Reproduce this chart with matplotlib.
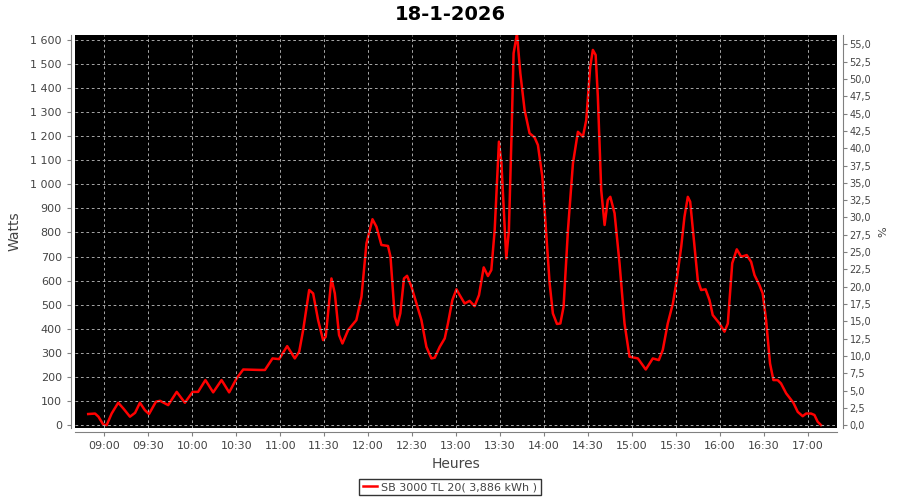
import matplotlib
matplotlib.use("Agg")
import matplotlib.pyplot as plt
from matplotlib.ticker import FuncFormatter, MultipleLocator
from matplotlib.lines import Line2D

# minutes after 09:00
minutes = [-11, -6.3, -4, -0.7, 1.6, 5, 9.5, 13, 17.5, 21, 24.3, 27.7, 30.5, 35.2, 38, 43.6,
           49.4, 55, 60.3, 64, 69, 74.3, 80, 85.2, 90.3, 94.8, 106.2, 109.6, 114.8, 119.3,
           124.8, 130, 133, 135.7, 139.8, 142.5, 145.9, 149.3, 151.1, 155, 157.3, 160.2,
           162.5, 166.4, 172, 175.5, 178.9, 183, 185.7, 189.1, 193.6, 195.3, 198.2, 200,
           202, 204.5, 206.6, 209.6, 213, 216.4, 219.8, 223.2, 225.5, 228.9, 232.3, 234.5,
           237.5, 240.3, 242.5, 245.9, 249.3, 252.7, 255.7, 258.9, 261.8, 264.1, 266.4,
           269.3, 271, 272.5, 274.3, 276.1, 277.8, 279.3, 281.6, 283.9, 286.8, 290.2,
           293.6, 295.9, 298.9, 301.1, 303.9, 306.1, 308.9, 311.2, 313.4, 316.4, 319.8,
           323.2, 326.6, 328.9, 331.6, 333.4, 335.3, 336.8, 339.1, 341.4, 343.6, 345.3,
           348.2, 351.6, 355, 358.4, 364.1, 369.5, 374.3, 378.4, 381.1, 384.5, 388, 390.3,
           393.7, 395.9, 398.2, 399.8, 402.8, 405, 407.3, 410.3, 413, 415.2, 419.8, 423.2,
           425.5, 428.5, 431.6, 434.6, 438.4, 441.4, 443.7, 447, 449.3, 451.6, 454.3,
           456.6, 459.5, 461.8, 465.3, 470.2, 473.2, 476.6, 478.9, 482.3, 484.6, 486.8,
           489.1]
watts = [46, 48, 35, 2, 0, 48, 93, 69, 35, 51, 93, 62, 46, 97, 101, 83,
         138, 93, 138, 138, 187, 136, 187, 136, 194, 231, 229, 229, 277, 274,
         328, 277, 305, 395, 561, 547, 436, 353, 367, 609, 547, 374,
         339, 395, 436, 533, 755, 855, 824, 748, 744, 699, 450, 415,
         464, 609, 620, 575, 505, 436, 325, 277, 280, 325, 360, 422,
         519, 564, 540, 505, 516, 494, 540, 655, 619, 644, 810,
         1177, 1087, 907, 692, 810, 1184, 1544, 1625, 1461, 1309, 1212,
         1195, 1163, 1032, 838, 589, 464, 420, 422, 491, 810, 1087,
         1218, 1198, 1267, 1489, 1558, 1537, 1364, 976, 831, 935, 948,
         880, 672, 422, 284, 277, 231, 277, 270, 312, 422, 505, 589,
         741, 865, 948, 928, 741, 602, 561, 564, 519, 457, 422, 388,
         422, 672, 730, 699, 706, 678, 623, 582, 547, 436, 256,
         187, 187, 173, 132, 93, 55, 37, 48, 48, 42, 14,
         0]

tick_minutes = list(range(0, 481, 30))
tick_labels = ["09:00", "09:30", "10:00", "10:30", "11:00", "11:30", "12:00", "12:30",
               "13:00", "13:30", "14:00", "14:30", "15:00", "15:30", "16:00", "16:30", "17:00"]
title = "18-1-2026"
legend_label = "SB 3000 TL 20( 3,886 kWh )"
watts_per_percent = 28.74

plt.rcParams['font.family'] = ['DejaVu Sans']
fig = plt.figure(figsize=(9, 5), dpi=100)
ax = fig.add_axes([75/900, 1-428/500, (837-75)/900, (428-35)/500])
ax.set_facecolor('black')
ax.plot(minutes, watts, color='#ff0000', lw=1.8, solid_joinstyle='round')
ax.set_xlim(-20, 500)
ylo, yhi = -12, 1620
ax.set_ylim(ylo, yhi)
ax.set_xticks(tick_minutes)
ax.set_xticklabels(tick_labels)
ax.yaxis.set_major_locator(MultipleLocator(100))
ax.yaxis.set_major_formatter(FuncFormatter(lambda v, p: f"{int(round(v)):,}".replace(",", " ")))
ax.grid(True, color='#a8a8a8', ls=(0, (2.8, 2.8)), lw=0.7)
ax.set_axisbelow(False)

grey = '#808080'
for s in ['top', 'right']:
    ax.spines[s].set_visible(False)
for s in ['left', 'bottom']:
    ax.spines[s].set_position(('outward', 3))
    ax.spines[s].set_color(grey)
ax.tick_params(colors=grey, labelcolor='#444444', labelsize=8, length=3, width=0.8)

ax2 = ax.twinx()
ax2.set_ylim(ylo / watts_per_percent, yhi / watts_per_percent)
ax2.yaxis.set_major_locator(MultipleLocator(2.5))
ax2.yaxis.set_major_formatter(FuncFormatter(lambda v, p: f"{v:.1f}".replace(".", ",")))
for s in ['top', 'left', 'bottom']:
    ax2.spines[s].set_visible(False)
ax2.spines['right'].set_position(('outward', 4))
ax2.spines['right'].set_color(grey)
ax2.tick_params(colors=grey, labelcolor='#444444', labelsize=7, length=3, width=0.8, pad=2)

ax.set_xlabel("Heures", fontsize=10, color='#444444', labelpad=4)
ax.set_ylabel("Watts", fontsize=10, color='#444444', labelpad=6)
ax2.set_ylabel("%", fontsize=8, color='#444444', labelpad=5)
fig.text(0.5, 1-14/500, title, ha='center', va='center', fontsize=14, fontweight='bold')

handle = Line2D([], [], color='#ff0000', lw=1.8)
leg = fig.legend([handle], [legend_label], loc='center', bbox_to_anchor=(450/900, 1-487/500),
                 frameon=True, fancybox=False, fontsize=8, handlelength=1.3, handletextpad=0.4,
                 borderpad=0.3, borderaxespad=0)
leg.get_frame().set_edgecolor('black')
leg.get_frame().set_linewidth(1)
for t in leg.get_texts():
    t.set_color('#444444')

fig.savefig("out.png", dpi=100)
